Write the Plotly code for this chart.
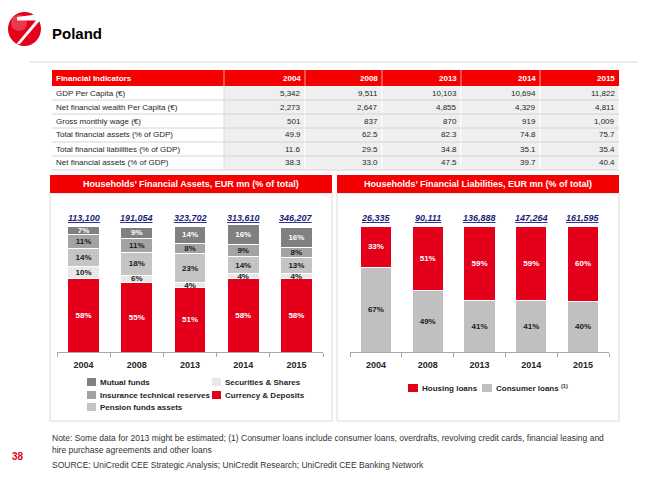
import plotly.graph_objects as go

# The page body keeps an 8px margin, so the figure is offset by 8px in the window.
OFF = 8
WIN_W, WIN_H = 650, 481
W, H = WIN_W - OFF, WIN_H - OFF
FONT = "Liberation Sans, Arial, sans-serif"

# ---------------- data ----------------
years = ["2004", "2008", "2013", "2014", "2015"]

table_header = ["Financial Indicators", "2004", "2008", "2013", "2014", "2015"]
indicators = [
    "GDP Per Capita (€)",
    "Net financial wealth Per Capita (€)",
    "Gross monthly wage (€)",
    "Total financial assets (% of GDP)",
    "Total financial liabilities (% of GDP)",
    "Net financial assets (% of GDP)",
]
col_2004 = ["5,342", "2,273", "501", "49.9", "11.6", "38.3"]
col_2008 = ["9,511", "2,647", "837", "62.5", "29.5", "33.0"]
col_2013 = ["10,103", "4,855", "870", "82.3", "34.8", "47.5"]
col_2014 = ["10,694", "4,329", "919", "74.8", "35.1", "39.7"]
col_2015 = ["11,822", "4,811", "1,009", "75.7", "35.4", "40.4"]

currency_deposits = [58, 55, 51, 58, 58]
securities_shares = [10, 6, 4, 4, 4]
pension_funds = [14, 18, 23, 14, 13]
insurance_reserves = [11, 11, 8, 9, 8]
mutual_funds = [7, 9, 14, 16, 16]
asset_totals = ["113,100", "191,054", "323,702", "313,610", "346,207"]

consumer_loans = [67, 49, 41, 41, 40]
housing_loans = [33, 51, 59, 59, 60]
liab_totals = ["26,335", "90,111", "136,888", "147,264", "161,595"]

title = "Poland"
left_title = "Households’ Financial Assets, EUR mn (% of total)"
right_title = "Households’ Financial Liabilities, EUR mn (% of total)"
note_lines = [
    "Note: Some data for 2013 might be estimated; (1) Consumer loans include consumer loans, overdrafts, revolving credit cards, financial leasing and",
    "hire purchase agreements and other loans",
]
source_line = "SOURCE: UniCredit CEE Strategic Analysis; UniCredit Research; UniCredit CEE Banking Network"
page_no = "38"

# ---------------- styles ----------------
RED = "#e4001b"
RED_H = "#f50000"
C_MUT = "#808080"
C_INS = "#a3a3a3"
C_PEN = "#c4c4c4"
C_SEC = "#e8e8e8"
C_CONS = "#c0c0c0"
NAVY = "#1c1c7a"
TXT = "#262626"


def X(px):
    """window pixel -> paper x"""
    return (px - OFF) / W


def Y(py):
    """window pixel -> paper y"""
    return 1 - (py - OFF) / H


fig = go.Figure()
shapes = []
ann = []

# ---------------- table (drawn as cells) ----------------
T_LEFT, T_TOP, HEAD_H, ROW_H = 52, 70, 16, 14
col_widths = [172, 81, 77, 79, 79, 79]
edges = [T_LEFT]
for w in col_widths:
    edges.append(edges[-1] + w)
columns = [indicators, col_2004, col_2008, col_2013, col_2014, col_2015]
n_rows = len(indicators)
t_bottom = T_TOP + HEAD_H + ROW_H * n_rows

shapes.append(dict(type="rect", xref="paper", yref="paper", x0=X(edges[0]), x1=X(edges[-1]),
                   y0=Y(T_TOP + HEAD_H), y1=Y(T_TOP), fillcolor=RED_H, line=dict(width=0)))
for e in edges[1:-1]:
    shapes.append(dict(type="line", xref="paper", yref="paper", x0=X(e), x1=X(e),
                       y0=Y(T_TOP + HEAD_H), y1=Y(T_TOP), line=dict(color="#f8a0a0", width=1)))
for ci, h in enumerate(table_header):
    left = ci == 0
    ann.append(dict(x=X(edges[ci] + 2 if left else edges[ci + 1] - 2), y=Y(T_TOP + HEAD_H / 2),
                    xref="paper", yref="paper", xanchor="left" if left else "right", yanchor="middle",
                    text=f"<b>{h}</b>", showarrow=False, font=dict(family=FONT, size=8, color="white")))
for ci in range(1, len(columns)):
    shapes.append(dict(type="rect", xref="paper", yref="paper", x0=X(edges[ci]), x1=X(edges[ci + 1]),
                       y0=Y(t_bottom), y1=Y(T_TOP + HEAD_H), fillcolor="#efefef",
                       line=dict(color="white", width=1), layer="below"))
shapes.append(dict(type="line", xref="paper", yref="paper", x0=X(edges[1]), x1=X(edges[1]),
                   y0=Y(t_bottom), y1=Y(T_TOP + HEAD_H), line=dict(color="#d8d8d8", width=1)))
for ri in range(n_rows):
    yb = T_TOP + HEAD_H + ROW_H * (ri + 1)
    shapes.append(dict(type="line", xref="paper", yref="paper", x0=X(edges[0]), x1=X(edges[-1]),
                       y0=Y(yb), y1=Y(yb), line=dict(color="#d4d4d4", width=1)))
    for ci, col in enumerate(columns):
        left = ci == 0
        ann.append(dict(x=X(edges[ci] + 2 if left else edges[ci + 1] - 2),
                        y=Y(T_TOP + HEAD_H + ROW_H * ri + ROW_H / 2),
                        xref="paper", yref="paper", xanchor="left" if left else "right", yanchor="middle",
                        text=col[ri], showarrow=False, font=dict(family=FONT, size=8, color=TXT)))

# ---------------- bars ----------------
xpos = list(range(len(years)))
asset_traces = [
    ("Currency & Deposits", currency_deposits, RED, "white"),
    ("Securities & Shares", securities_shares, C_SEC, "#1a1a1a"),
    ("Pension funds assets", pension_funds, C_PEN, "#1a1a1a"),
    ("Insurance technical reserves", insurance_reserves, C_INS, "#1a1a1a"),
    ("Mutual funds", mutual_funds, C_MUT, "white"),
]
for name, vals, color, tcol in asset_traces:
    fig.add_trace(go.Bar(
        x=xpos, y=vals, name=name, xaxis="x", yaxis="y", width=0.6,
        marker=dict(color=color, line=dict(color="white", width=1)),
        text=[f"{v}%" for v in vals], textposition="inside",
        insidetextanchor="middle", textangle=0, constraintext="none",
        textfont=dict(family=FONT, size=8, color=tcol, weight="bold"),
        cliponaxis=False, showlegend=False, hoverinfo="skip",
    ))

liab_traces = [
    ("Consumer loans", consumer_loans, C_CONS, "#1a1a1a"),
    ("Housing loans", housing_loans, RED, "white"),
]
for name, vals, color, tcol in liab_traces:
    fig.add_trace(go.Bar(
        x=xpos, y=vals, name=name, xaxis="x2", yaxis="y2", width=0.6,
        marker=dict(color=color, line=dict(color="white", width=1)),
        text=[f"{v}%" for v in vals], textposition="inside",
        insidetextanchor="middle", textangle=0, constraintext="none",
        textfont=dict(family=FONT, size=8, color=tcol, weight="bold"),
        cliponaxis=False, showlegend=False, hoverinfo="skip",
    ))

for xi, t in zip(xpos, asset_totals):
    ann.append(dict(x=xi, y=100, xref="x", yref="y", yanchor="bottom", yshift=1,
                    text=f"<i><u>{t}</u></i>", showarrow=False,
                    font=dict(family=FONT, size=9, color=NAVY, weight="bold")))
for xi, t in zip(xpos, liab_totals):
    ann.append(dict(x=xi, y=100, xref="x2", yref="y2", yanchor="bottom", yshift=1,
                    text=f"<i><u>{t}</u></i>", showarrow=False,
                    font=dict(family=FONT, size=9, color=NAVY, weight="bold")))

# ---------------- logo & title ----------------
shapes.append(dict(type="circle", xref="paper", yref="paper",
                   x0=X(8), x1=X(41), y0=Y(46), y1=Y(12),
                   fillcolor=RED, line=dict(width=0), layer="above"))
shapes.append(dict(type="circle", xref="paper", yref="paper",
                   x0=X(11), x1=X(27), y0=Y(31), y1=Y(15),
                   fillcolor="rgba(255,255,255,0.22)", line=dict(width=0), layer="above"))
swoosh = [(17, 17), (44, 13.5), (42.5, 17.5), (20, 44), (16, 44.5), (36, 20.5), (17, 20.5)]
path = "M " + " L ".join(f"{X(a):.5f},{Y(b):.5f}" for a, b in swoosh) + " Z"
shapes.append(dict(type="path", xref="paper", yref="paper", path=path,
                   fillcolor="white", line=dict(width=0), layer="above"))
ann.append(dict(x=X(50), y=Y(33), xref="paper", yref="paper", xanchor="left", yanchor="middle",
                text=f"<b>{title}</b>", showarrow=False,
                font=dict(family=FONT, size=15, color="black")))

shapes.append(dict(type="line", xref="paper", yref="paper", x0=X(30), x1=X(638), y0=Y(62), y1=Y(62),
                   line=dict(color="#d9d9d9", width=1)))

# ---------------- panels ----------------
for (x0, x1, ttl) in [(50, 332, left_title), (337, 619, right_title)]:
    shapes.append(dict(type="rect", xref="paper", yref="paper", x0=X(x0), x1=X(x1), y0=Y(421), y1=Y(193),
                       fillcolor="rgba(0,0,0,0)", line=dict(color="#dadada", width=1), layer="below"))
    shapes.append(dict(type="rect", xref="paper", yref="paper", x0=X(x0), x1=X(x1), y0=Y(193), y1=Y(175),
                       fillcolor=RED_H, line=dict(width=0)))
    ann.append(dict(x=X((x0 + x1) / 2), y=Y(184), xref="paper", yref="paper",
                    xanchor="center", yanchor="middle", text=f"<b>{ttl}</b>", showarrow=False,
                    font=dict(family=FONT, size=9, color="white")))

# ---------------- legends ----------------
color_of = {n: c for n, _, c, _ in asset_traces}
left_legend = [
    ("Mutual funds", 87, 382), ("Insurance technical reserves", 87, 395), ("Pension funds assets", 87, 407),
    ("Securities & Shares", 212, 382), ("Currency & Deposits", 212, 395),
]
for name, lx, ly in left_legend:
    shapes.append(dict(type="rect", xref="paper", yref="paper", x0=X(lx), x1=X(lx + 9),
                       y0=Y(ly + 4), y1=Y(ly - 4), fillcolor=color_of[name], line=dict(width=0)))
    ann.append(dict(x=X(lx + 11), y=Y(ly), xref="paper", yref="paper", xanchor="left", yanchor="middle",
                    text=f"<b>{name}</b>", showarrow=False, font=dict(family=FONT, size=8, color=TXT)))

right_legend = [("Housing loans", RED, 408, ""), ("Consumer loans", C_CONS, 482, " <sup>(1)</sup>")]
for name, col, lx, suffix in right_legend:
    shapes.append(dict(type="rect", xref="paper", yref="paper", x0=X(lx), x1=X(lx + 10),
                       y0=Y(392), y1=Y(384), fillcolor=col, line=dict(width=0)))
    ann.append(dict(x=X(lx + 12), y=Y(388), xref="paper", yref="paper", xanchor="left", yanchor="middle",
                    text=f"<b>{name}{suffix}</b>", showarrow=False, font=dict(family=FONT, size=8, color=TXT)))

# ---------------- footer ----------------
for i, line in enumerate(note_lines):
    ann.append(dict(x=X(50), y=Y(438 + 12 * i), xref="paper", yref="paper", xanchor="left", yanchor="middle",
                    text=line, showarrow=False, font=dict(family=FONT, size=8.5, color="#333333")))
ann.append(dict(x=X(50), y=Y(465), xref="paper", yref="paper", xanchor="left", yanchor="middle",
                text=source_line, showarrow=False, font=dict(family=FONT, size=8.5, color="#333333")))
ann.append(dict(x=X(10), y=Y(456), xref="paper", yref="paper", xanchor="left", yanchor="middle",
                text=f"<b>{page_no}</b>", showarrow=False, font=dict(family=FONT, size=10, color=RED)))

# y range covers the largest stacked total (101) so every segment label is drawn
Y_MAX = 101
BAR_BASE, BAR_TOP100 = 352, 226
y_top_px = BAR_BASE - (BAR_BASE - BAR_TOP100) * Y_MAX / 100
boundaries = [i - 0.5 for i in range(len(years) + 1)]
xaxis_common = dict(range=[-0.5, len(years) - 0.5], tickmode="array", tickvals=xpos, ticktext=years,
                    showline=True, linecolor="#a6a6a6", linewidth=1, ticks="",
                    minor=dict(tickmode="array", tickvals=boundaries, ticks="outside", ticklen=4,
                               tickcolor="#a6a6a6", showgrid=False),
                    ticklabelstandoff=4,
                    tickfont=dict(family=FONT, size=9, color=TXT, weight="bold"),
                    showgrid=False, zeroline=False, fixedrange=True)
yaxis_common = dict(range=[0, Y_MAX], visible=False, showgrid=False, zeroline=False, fixedrange=True)

fig.update_layout(
    width=W, height=H, margin=dict(l=0, r=0, t=0, b=0),
    paper_bgcolor="white", plot_bgcolor="white",
    barmode="stack", showlegend=False,
    font=dict(family=FONT, size=8, color=TXT),
    xaxis=dict(domain=[X(57), X(323)], anchor="y", **xaxis_common),
    yaxis=dict(domain=[Y(BAR_BASE), Y(y_top_px)], anchor="x", **yaxis_common),
    xaxis2=dict(domain=[X(350), X(609)], anchor="y2", **xaxis_common),
    yaxis2=dict(domain=[Y(BAR_BASE), Y(y_top_px)], anchor="x2", **yaxis_common),
    shapes=shapes, annotations=ann,
)

fig.write_html("out.html")
